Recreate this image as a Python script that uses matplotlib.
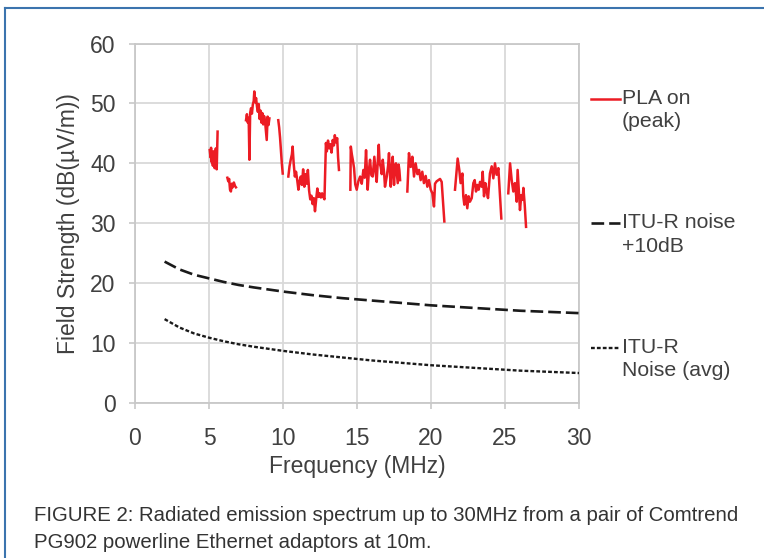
#!/usr/bin/python3
# Radiated emission spectrum (PLA on) against ITU-R noise levels
import numpy as np
import matplotlib
matplotlib.use("Agg")
import matplotlib.pyplot as plt
from matplotlib.lines import Line2D
from matplotlib import font_manager

nan = np.nan

# PLA on (peak) trace, segments split by nan
pla_freq = [5.05, 5.10, 5.14, 5.18, 5.22, 5.26, 5.30, 5.34, 5.38, 5.42, 5.46, 5.52, 5.58, nan,
            6.24, 6.30, 6.36, 6.42, 6.48, 6.54, 6.60, 6.68, 6.76, 6.82, nan,
            7.50, 7.56, 7.62, 7.68, 7.73, 7.78, 7.84, 7.90, 7.96, 8.02, 8.06, 8.12, 8.18, 8.24,
            8.30, 8.36, 8.42, 8.48, 8.54, 8.60, 8.66, 8.72, 8.78, 8.84, 8.90, 8.96, 9.02, 9.08, nan,
            9.68, 9.74, 9.80, 9.86, 9.92, 9.98, nan,
            10.36, 10.44, 10.52, 10.60, 10.65, 10.72, 10.80, 10.88, 10.96, 11.04, 11.12, 11.20,
            11.28, 11.36, 11.44, 11.52, 11.60, 11.68, 11.76, 11.84, 11.92, 12.00, 12.08, 12.16,
            12.24, 12.32, 12.40, 12.48, 12.56, 12.64, 12.72, 12.80, 12.90, 12.96, 13.04, 13.12,
            13.20, 13.28, 13.36, 13.44, 13.50, 13.58, 13.66, 13.72, 13.78, nan,
            14.55, 14.58, 14.65, 14.72, 14.80, 14.88, 14.98, 15.09, 15.21, 15.32, 15.43, 15.52,
            15.61, 15.72, 15.81, 15.88, 15.97, 16.06, 16.17, 16.26, 16.33, 16.40, 16.47, 16.53,
            16.60, 16.67, 16.74, 16.83, 16.89, 17.01, 17.10, 17.16, 17.23, 17.28, 17.34, 17.41,
            17.50, 17.57, 17.63, 17.75, 17.81, 17.86, 17.91, nan,
            18.40, 18.51, 18.63, 18.74, 18.85, 18.96, 19.08, 19.19, 19.30, 19.41, 19.52, 19.64,
            19.75, 19.86, 19.98, 20.09, 20.20, 20.27, 20.38, 20.49, 20.61, 20.72, 20.83, 20.90, nan,
            21.62, 21.80, 21.91, 22.00, 22.12, 22.18, 22.25, 22.36, 22.45, 22.54, 22.63, 22.75,
            22.86, 22.95, 23.04, 23.13, 23.22, 23.31, 23.42, 23.49, 23.58, 23.67, 23.76, 23.85,
            23.98, 24.10, 24.21, 24.32, 24.43, 24.55, 24.66, 24.75, nan,
            25.22, 25.34, 25.45, 25.56, 25.67, 25.79, 25.85, 25.94, 26.01, 26.10, 26.19, 26.24,
            26.33, 26.42]
pla_db = [42.2, 41.0, 42.6, 40.2, 41.8, 39.6, 42.0, 40.4, 39.2, 40.8, 42.5, 39.0, 45.3, nan,
          37.6, 37.0, 37.4, 35.6, 35.3, 36.6, 36.0, 36.8, 36.2, 36.0, nan,
          47.2, 48.2, 46.8, 47.6, 40.6, 48.4, 49.2, 48.3, 49.8, 50.4, 52.0, 50.2, 50.9, 49.5,
          48.6, 49.9, 47.4, 48.8, 46.8, 48.4, 46.5, 47.9, 47.2, 45.5, 43.9, 47.8, 46.4, 47.5, nan,
          47.2, 46.0, 44.3, 42.2, 40.0, 38.3, nan,
          37.8, 39.5, 40.6, 41.5, 42.8, 40.0, 37.8, 38.6, 37.2, 35.6, 37.0, 37.8,
          36.4, 39.0, 36.1, 38.2, 36.6, 38.9, 35.5, 34.0, 34.6, 33.2, 34.2, 32.0,
          34.0, 35.8, 34.4, 35.0, 34.3, 35.0, 34.4, 34.0, 43.4, 42.0, 43.8, 42.5,
          43.2, 41.8, 43.9, 43.0, 44.7, 43.5, 44.2, 41.0, 38.9, nan,
          35.6, 42.8, 41.5, 40.5, 39.2, 36.5, 35.6, 37.0, 37.8, 36.6, 38.9, 37.6,
          42.2, 35.6, 39.0, 40.6, 38.0, 37.8, 41.1, 38.5, 36.9, 40.2, 43.1, 40.0,
          39.4, 38.2, 40.6, 38.4, 36.1, 37.8, 39.6, 41.7, 38.0, 36.1, 39.2, 41.1,
          36.4, 39.5, 40.0, 36.7, 39.8, 38.9, 37.2, nan,
          35.3, 41.7, 39.4, 41.1, 37.8, 40.0, 38.2, 38.9, 37.2, 38.6, 36.7, 37.9,
          36.1, 37.2, 35.6, 35.0, 32.8, 36.6, 37.0, 37.2, 37.4, 36.9, 33.0, 30.3, nan,
          35.6, 40.8, 38.9, 36.7, 38.3, 34.5, 33.1, 34.7, 32.5, 34.5, 33.6, 34.2,
          36.7, 37.2, 35.3, 36.4, 35.6, 36.9, 36.1, 38.6, 34.5, 36.7, 35.3, 34.2,
          38.3, 39.5, 37.5, 40.0, 38.1, 39.2, 34.5, 30.8, nan,
          35.0, 40.0, 37.2, 35.3, 36.7, 33.6, 38.9, 35.0, 32.2, 34.7, 33.9, 35.9,
          33.1, 29.4]

# ITU-R noise curves
itu_freq = [2, 3, 4, 5, 6, 7, 8, 10, 12, 14, 16, 18, 20, 22, 24, 26, 28, 30]
itu_plus10 = [23.6, 22.3, 21.4, 20.8, 20.2, 19.7, 19.3, 18.6, 18.0, 17.5,
              17.1, 16.7, 16.3, 16.0, 15.7, 15.4, 15.2, 15.0]
itu_avg = [14.0, 12.6, 11.6, 10.9, 10.3, 9.8, 9.4, 8.7, 8.1, 7.6,
           7.1, 6.7, 6.3, 6.0, 5.7, 5.4, 5.2, 5.0]

# leading blank line keeps the legend handle level with the first text line
labels = [" \nPLA on\n(peak)", " \nITU-R noise\n+10dB", " \nITU-R\nNoise (avg)"]
x_ticks = [0, 5, 10, 15, 20, 25, 30]
y_ticks = [0, 10, 20, 30, 40, 50, 60]
caption = ["FIGURE 2: Radiated emission spectrum up to 30MHz from a pair of Comtrend",
           "PG902 powerline Ethernet adaptors at 10m."]

plt.rcParams['font.family'] = ['Liberation Sans', 'DejaVu Sans']
txt_col = '#404040'

fig = plt.figure(figsize=(7.64, 5.58), dpi=100)
ax = fig.add_axes([0.1767, 0.2778, 0.5812, 0.6442])

ax.plot(pla_freq, pla_db, color='#ec1c24', lw=1.8, label=labels[0], zorder=3)
ax.plot(itu_freq, itu_plus10, color='#1a1a1a', lw=1.9, dashes=(4.8, 1.9),
        label=labels[1], zorder=3)
ax.plot(itu_freq, itu_avg, color='#1a1a1a', lw=1.7, dashes=(1.6, 0.9),
        label=labels[2], zorder=3)

ax.set_xlim(0, 30)
ax.set_ylim(0, 60)
ax.set_xticks(x_ticks)
ax.set_yticks(y_ticks)
ax.grid(True, color='#d9d9d9', lw=1.3)
ax.set_axisbelow(True)
for s in ax.spines.values():
    s.set_color('#c8c8c8')
    s.set_linewidth(1.3)
ax.tick_params(colors='#c8c8c8', labelcolor=txt_col, labelsize=16.5,
               length=4, width=1.2)
ax.tick_params(axis='x', pad=13)
ax.tick_params(axis='y', pad=10)
ax.set_xlabel('Frequency (MHz)', fontsize=16.5, color=txt_col, labelpad=4)
ax.set_ylabel('Field Strength (dB(\u00b5V/m))', fontsize=16.5, color=txt_col,
              labelpad=7)

leg = ax.legend(loc='upper left', bbox_to_anchor=(1.027, 0.938), frameon=False,
                fontsize=15.3, handlelength=1.35, handletextpad=0.1, borderpad=0,
                labelspacing=2.78, borderaxespad=0, labelcolor=txt_col)
for t in leg.get_texts():
    t.set_linespacing(1.28)

# page frame
fig.add_artist(Line2D([0.006, 1.0], [0.985, 0.985], color='#3b74ae', lw=1.5))
fig.add_artist(Line2D([0.006, 0.006], [0.0, 0.985], color='#3b74ae', lw=1.5))

# caption, first line fitted to the reference width
cap_font = font_manager.FontProperties(family='Liberation Sans', size=16)
cap1 = fig.text(0.044, 1 - 521 / 558, caption[0], fontproperties=cap_font,
                color='#333333', va='baseline', ha='left')
fig.canvas.draw()
size = 16 * 703.0 / cap1.get_window_extent().width
cap1.set_fontsize(size)
fig.text(0.044, 1 - 548 / 558, caption[1], family='Liberation Sans', fontsize=size,
         color='#333333', va='baseline', ha='left')

plt.savefig("out.png", dpi=100)
